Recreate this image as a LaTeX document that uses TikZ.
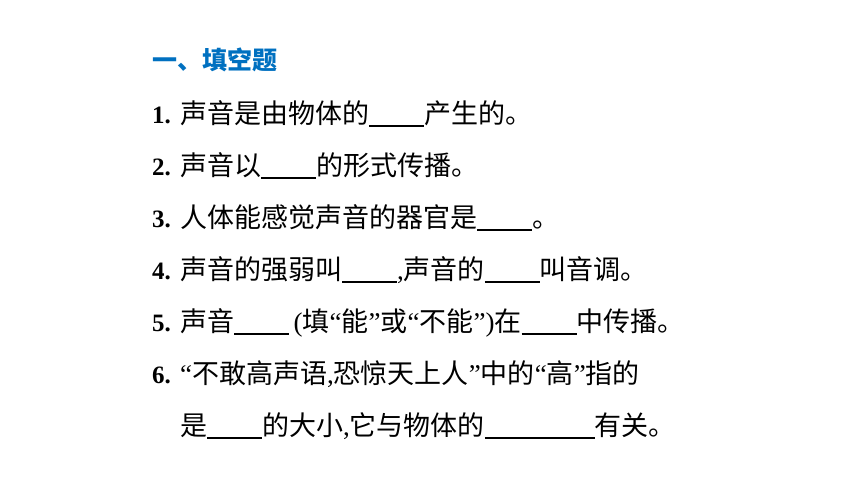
\documentclass[tikz,border=0pt]{standalone}
\usepackage{fontspec}
\setmainfont{Liberation Serif}
\newfontfamily\cjk{Noto Sans CJK SC}
\newcommand\blank[1]{\rule[-3pt]{#1pt}{1.6pt}}
\newcommand\num[1]{{\bfseries\fontsize{25}{30}\selectfont #1}}
\newcommand\lqm{{\rmfamily\char"201C}}
\newcommand\rqm{{\rmfamily\char"201D}}
\definecolor{titleblue}{RGB}{0,112,192}
\begin{document}
\begin{tikzpicture}[x=1pt,y=1pt]
    \tikzstyle{qline} = [anchor=base west, inner sep=0pt, font=\fontsize{27}{30}\selectfont\cjk]
    \tikzstyle{qnum} = [anchor=base west, inner sep=0pt]
    \useasboundingbox (0,0) rectangle (860,484);
    \node[qline, text=titleblue, font=\fontsize{25}{30}\selectfont\cjk\bfseries] (title) at (152,414) {一、填空题};
    \node[qnum] (n1) at (152,360) {\num{1.}};
    \node[qline] (q1) at (180,360) {声音是由物体的\blank{55}产生的。};
    \node[qnum] (n2) at (152,308) {\num{2.}};
    \node[qline] (q2) at (180,308) {声音以\blank{55}的形式传播。};
    \node[qnum] (n3) at (152,256) {\num{3.}};
    \node[qline] (q3) at (180,256) {人体能感觉声音的器官是\blank{55}。};
    \node[qnum] (n4) at (152,204) {\num{4.}};
    \node[qline] (q4) at (180,204) {声音的强弱叫\blank{55}{\rmfamily,}声音的\blank{55}叫音调。};
    \node[qnum] (n5) at (152,152) {\num{5.}};
    \node[qline] (q5) at (180,152) {声音\blank{55}{\rmfamily\,(}填\lqm 能\rqm 或\lqm 不能\rqm{\rmfamily)}在\blank{55}中传播。};
    \node[qnum] (n6) at (152,100) {\num{6.}};
    \node[qline] (q6) at (180,100) {\lqm 不敢高声语{\rmfamily,}恐惊天上人\rqm 中的\lqm 高\rqm 指的};
    \node[qline] (q6b) at (180,48) {是\blank{55}的大小{\rmfamily,}它与物体的\blank{110}有关。};
\end{tikzpicture}
\end{document}
